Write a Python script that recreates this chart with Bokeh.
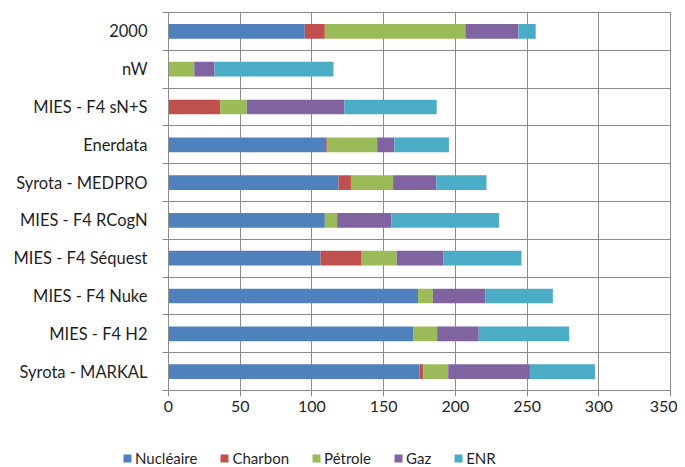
from bokeh.plotting import figure
from bokeh.models import FixedTicker, Legend, LegendItem, Range1d, ColumnDataSource
from bokeh.embed import file_html
from bokeh.resources import INLINE

categories = ["2000", "nW", "MIES - F4 sN+S", "Enerdata", "Syrota - MEDPRO",
              "MIES - F4 RCogN", "MIES - F4 Séquest", "MIES - F4 Nuke",
              "MIES - F4 H2", "Syrota - MARKAL"]
nucleaire = [95, 0, 0, 110, 118.6, 109, 106, 174, 170.5, 175]
charbon = [14, 0, 36, 0.5, 8.6, 0, 28.7, 0, 0, 2.6]
petrole = [98, 18, 18.6, 35, 29.4, 8.6, 24.4, 10.3, 16.8, 17.4]
gaz = [37, 14, 68, 12, 30.2, 37.9, 32.5, 36.7, 29, 57]
enr = [12, 83, 64.4, 38, 34.9, 74.9, 54.5, 47, 63.1, 45.3]
series_names = ["Nucléaire", "Charbon", "Pétrole", "Gaz", "ENR"]
x_ticks = [0, 50, 100, 150, 200, 250, 300, 350]

colors = ["#4F81BD", "#C0504D", "#9BBB59", "#8064A2", "#4BACC6"]
FONT = "Lato"
TEXT = "#1f1f1f"
n = len(categories)
ypos = [n - 1 - i + 0.5 for i in range(n)]
keys = ["nucleaire", "charbon", "petrole", "gaz", "enr"]
source = ColumnDataSource(dict(y=ypos, nucleaire=nucleaire, charbon=charbon,
                               petrole=petrole, gaz=gaz, enr=enr))

p = figure(width=677, height=422, output_backend="svg", toolbar_location=None,
           x_range=Range1d(0, 350), y_range=Range1d(0, n),
           min_border_left=168, min_border_right=7, min_border_top=12, min_border_bottom=32)

renderers = p.hbar_stack(keys, y="y", height=0.39, color=colors, source=source, line_width=0)

grid_color = "#8c8c8c"
p.outline_line_color = grid_color
p.xaxis.ticker = FixedTicker(ticks=x_ticks)
p.xaxis.axis_line_color = grid_color
p.xaxis.major_tick_line_color = grid_color
p.xaxis.major_tick_out = 6
p.xaxis.major_tick_in = 0
p.xaxis.minor_tick_line_color = None
p.xaxis.major_label_standoff = 4
p.xaxis.major_label_text_font = FONT
p.xaxis.major_label_text_font_size = "16px"
p.xaxis.major_label_text_color = TEXT

boundaries = list(range(n + 1))
p.yaxis.ticker = FixedTicker(ticks=ypos, minor_ticks=boundaries)
p.yaxis.major_label_overrides = {c: name for c, name in zip(ypos, categories)}
p.yaxis.axis_line_color = grid_color
p.yaxis.major_tick_out = 0
p.yaxis.major_tick_in = 0
p.yaxis.minor_tick_out = 6
p.yaxis.minor_tick_in = 0
p.yaxis.minor_tick_line_color = grid_color
p.yaxis.major_label_standoff = 15
p.yaxis.major_label_text_font = FONT
p.yaxis.major_label_text_font_size = "16.5px"
p.yaxis.major_label_text_color = TEXT

p.xgrid.grid_line_color = grid_color
p.ygrid.ticker = FixedTicker(ticks=boundaries)
p.ygrid.grid_line_color = grid_color

# legend strip below the chart (swatch renderers have zero width)
lg = figure(width=677, height=45, output_backend="svg", toolbar_location=None,
            x_range=Range1d(0, 1), y_range=Range1d(0, 1),
            x_axis_type=None, y_axis_type=None,
            min_border_left=0, min_border_right=0, min_border_top=0, min_border_bottom=0)
lg.outline_line_color = None
lg.xgrid.visible = False
lg.ygrid.visible = False
swatch_src = ColumnDataSource(dict(y=[0.5], left=[0], right=[0]))
swatches = [lg.hbar(y="y", left="left", right="right", height=0.0, color=c,
                    line_width=0, source=swatch_src) for c in colors]
items = [LegendItem(label=nm, renderers=[r]) for nm, r in zip(series_names, swatches)]
legend = Legend(items=items, orientation="horizontal", location=(122, 0),
                padding=0, margin=0, spacing=22, glyph_width=10, glyph_height=10,
                label_standoff=3, label_text_font=FONT, label_text_font_size="15px",
                label_text_color=TEXT, background_fill_alpha=0, border_line_color=None,
                label_height=14)
lg.add_layout(legend, "center")

open("out.html", "w").write(file_html([p, lg], INLINE))
